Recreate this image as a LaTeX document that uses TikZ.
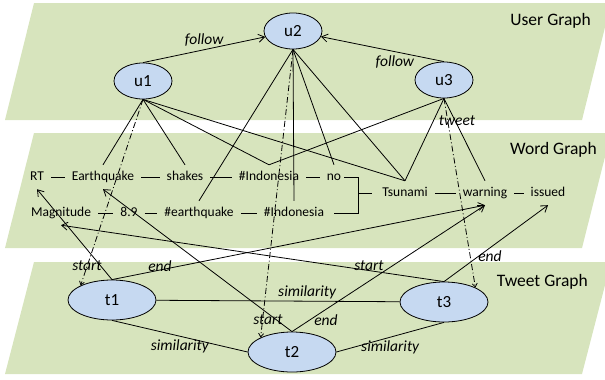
\documentclass[tikz,border=0pt]{standalone}
\usepackage{fontspec}
\setmainfont{Carlito}
\usepackage{tikz}
\usetikzlibrary{positioning, arrows.meta, shapes.geometric}

\definecolor{planegreen}{RGB}{215,228,189}
\definecolor{nodeblue}{RGB}{198,217,241}

\begin{document}
\begin{tikzpicture}[x=1pt, y=-1pt,
	plane/.style={fill=planegreen, draw=none},
	user/.style={ellipse, draw, fill=nodeblue, line width=0.8pt, minimum width=58pt, minimum height=36pt, inner sep=0pt, font=\fontsize{17}{20}\selectfont},
	tweetnode/.style={user, minimum width=88pt, minimum height=40pt},
	word/.style={anchor=base, inner xsep=0pt, inner ysep=6pt, text height=9pt, text depth=3pt, font=\fontsize{13.5}{16}\selectfont},
	lbl/.style={inner sep=1pt, font=\fontsize{15.5}{18}\selectfont\itshape},
	title/.style={anchor=east, inner sep=0pt, font=\fontsize{17.5}{20}\selectfont},
	edge/.style={line width=0.8pt},
	wline/.style={edge, shorten <=7pt, shorten >=7pt},
	rel/.style={edge, -{Straight Barb[length=6pt, width=8pt]}},
	tw/.style={edge, dash pattern=on 6pt off 2.5pt on 1pt off 2.5pt, -{Straight Barb[length=3.5pt, width=5pt]}}]

		\useasboundingbox (0,0) rectangle (605,380);

		% planes %
		\fill[plane] (5,120) -- (582,120) -- (611,3) -- (34,3) -- cycle;
		\fill[plane] (5,248) -- (582,248) -- (611,133) -- (34,133) -- cycle;
		\fill[plane] (5,374) -- (582,374) -- (611,262) -- (34,262) -- cycle;
		\node[title] (ug) at (591,21) {User Graph};
		\node[title] (wg) at (597,150) {Word Graph};
		\node[title] (tg) at (588,282) {Tweet Graph};

		% nodes - user graph %
		\node[user] (u1) at (143,81) {u1};
		\node[user] (u2) at (293,31) {u2};
		\node[user] (u3) at (444,80) {u3};

		% nodes - word graph %
		\node[word] (rt) at (37,180) {RT};
		\node[word] (eq) at (103,180) {Earthquake};
		\node[word] (shakes) at (185,180) {shakes};
		\node[word] (ind1) at (269,180) {\#Indonesia};
		\node[word] (no) at (334,180) {no};
		\node[word] (mag) at (61,216) {Magnitude};
		\node[word] (num) at (129,216) {8.9};
		\node[word] (hq) at (199,216) {\#earthquake};
		\node[word] (ind2) at (294,216) {\#Indonesia};
		\node[word] (tsu) at (405,196) {Tsunami};
		\node[word] (warn) at (485,196) {warning};
		\node[word] (iss) at (548,196) {issued};
		\coordinate (brk) at (358,193);

		% nodes - tweet graph %
		\node[tweetnode] (t1) at (112,300) {t1};
		\node[tweetnode] (t2) at (292,352) {t2};
		\node[tweetnode] (t3) at (444,302) {t3};

		% edges - word graph %
		\draw[wline] (rt) -- (eq);
		\draw[wline] (eq) -- (shakes);
		\draw[wline] (shakes) -- (ind1);
		\draw[wline] (ind1) -- (no);
		\draw[wline] (mag) -- (num);
		\draw[wline] (num) -- (hq);
		\draw[wline] (hq) -- (ind2);
		\draw[wline] (tsu) -- (warn);
		\draw[wline] (warn) -- (iss);
		\draw[edge] ([xshift=3pt]no.east) -| (brk |- ind2) -- ([xshift=10pt]ind2.east);
		\draw[edge] (brk) -- ([xshift=-10pt]tsu.west);

		% edges - user graph %
		\draw[rel] (u1.north) -- (u2) node[lbl, pos=0.5, above=2pt] (fol1) {follow};
		\draw[rel] (u3.north) -- (u2) node[lbl, pos=0.4, below=3pt] (fol2) {follow};

		% edges - users to words %
		\draw[edge] (u1.south) -- (eq.north);
		\draw[edge] (u1.south) -- (shakes.north);
		\draw[edge] (u1.south) -- (ind1.north);
		\draw[edge] (u1.south) -- (tsu.north);
		\draw[edge] (u2.south) -- (hq.north);
		\draw[edge] (u2.south) -- (ind2.north);
		\draw[edge] (u2.south) -- (no.north);
		\draw[edge] (u2.south) -- (tsu.north);
		\draw[edge] (u3.south) -- (ind1.north);
		\draw[edge] (u3.south) -- (tsu.north);
		\draw[edge] (u3.south) -- (warn.north);

		% edges - users to tweets %
		\draw[tw] (u1.south) -- (t1.north west);
		\draw[tw] (u2.south) -- (t2.north west);
		\draw[tw] (u3.south) -- (t3.north east);
		\node[lbl] (twl) at (457,121) {tweet};

		% edges - tweets to words %
		\draw[rel] (t1.north) -- (rt.south);
		\draw[rel] (t1.north) -- (warn.south);
		\draw[rel] (t2.north) -- (eq.south);
		\draw[rel] (t2.north) -- (warn.south);
		\draw[rel] (t3.north) -- (mag.south);
		\draw[rel] (t3.north) -- (iss.south);
		\node[lbl] (st1) at (87,266) {start};
		\node[lbl] (en1) at (160,266) {end};
		\node[lbl] (st2) at (268,320) {start};
		\node[lbl] (en2) at (326,320) {end};
		\node[lbl] (st3) at (369,266) {start};
		\node[lbl] (en3) at (490,256) {end};

		% edges - tweet graph %
		\draw[edge] (t1) -- (t3) node[lbl, pos=0.62, above=1pt] (sim1) {similarity};
		\draw[edge] (t1.south) -- (t2.west) node[lbl, pos=0.5, below=2pt] (sim2) {similarity};
		\draw[edge] (t2.east) -- (t3.south) node[lbl, pos=0.5, below=2pt] (sim3) {similarity};

\end{tikzpicture}
\end{document}
